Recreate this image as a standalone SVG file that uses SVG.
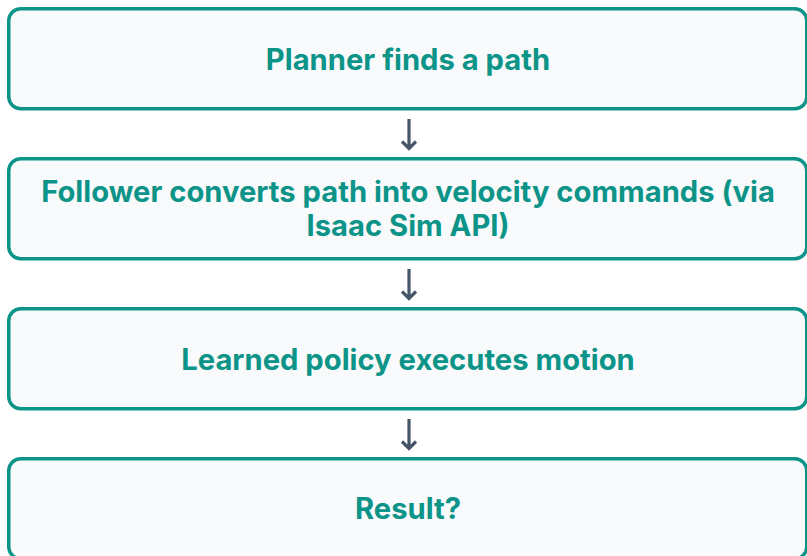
<svg xmlns="http://www.w3.org/2000/svg" width="807" height="556" viewBox="0 0 807 556">
  <defs>
    <style>
      .box { fill: #f8fafc; stroke: #0d9488; stroke-width: 3.5; }
      .label { font-family: Inter, "Noto Sans", "Liberation Sans", sans-serif; font-weight: 700; font-size: 29.2px; fill: #0d9488; text-anchor: middle; }
      .arrow { fill: none; stroke: #475569; stroke-width: 3.2; stroke-linecap: butt; stroke-linejoin: miter; }
    </style>
  </defs>
  <rect width="807" height="556" fill="#ffffff"/>

  <g id="node-planner">
    <rect class="box" x="8.75" y="8.75" width="798" height="100" rx="12"/>
    <text class="label" x="408" y="69.5">Planner finds a path</text>
  </g>

  <g id="node-follower">
    <rect class="box" x="8.75" y="158.75" width="798" height="100" rx="12"/>
    <text class="label" x="408" y="201.5">Follower converts path into velocity commands (via</text>
    <text class="label" x="408" y="236">Isaac Sim API)</text>
  </g>

  <g id="node-policy">
    <rect class="box" x="8.75" y="308.75" width="798" height="100" rx="12"/>
    <text class="label" x="408" y="369.5">Learned policy executes motion</text>
  </g>

  <g id="node-result">
    <rect class="box" x="8.75" y="458.75" width="798" height="100" rx="12"/>
    <text class="label" x="408" y="519">Result?</text>
  </g>

  <g id="connectors">
    <path class="arrow" d="M409 119 V148 M402 141.5 L409 148.5 L416 141.5"/>
    <path class="arrow" d="M409 269 V298 M402 291.5 L409 298.5 L416 291.5"/>
    <path class="arrow" d="M409 419 V448 M402 441.5 L409 448.5 L416 441.5"/>
  </g>
</svg>
